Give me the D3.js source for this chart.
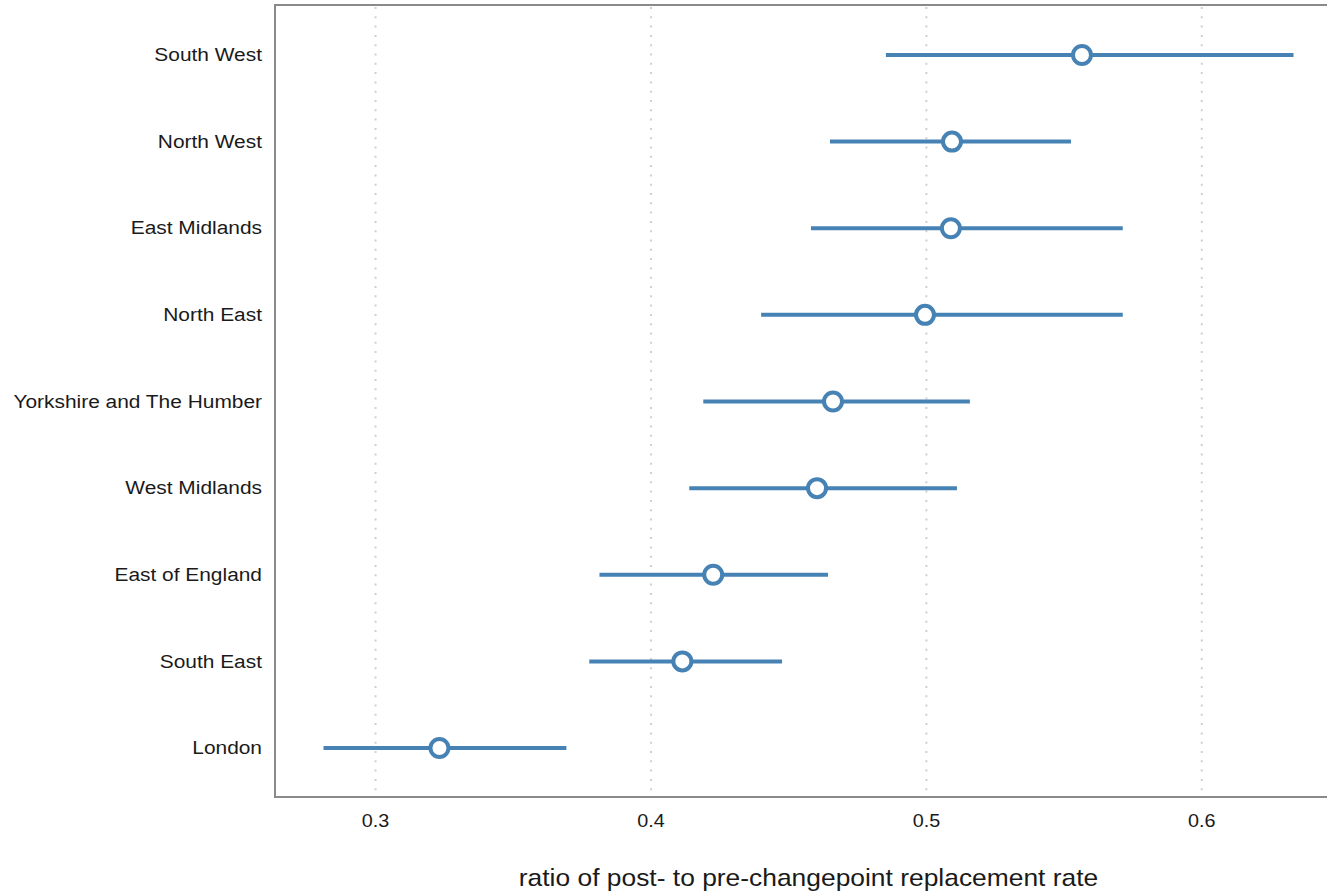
<!DOCTYPE html>
<html>
<head>
<meta charset="utf-8">
<script src="https://cdn.jsdelivr.net/npm/d3@7"></script>
<style>
  html, body { margin: 0; padding: 0; background: #fff; }
  svg { display: block; font-family: "Liberation Sans", Arial, Helvetica, sans-serif; }
</style>
</head>
<body>
<svg id="chart" width="1327" height="891"></svg>
<script>
// Data (top to bottom)
const regions = ["South West", "North West", "East Midlands", "North East",
  "Yorkshire and The Humber", "West Midlands", "East of England", "South East", "London"];
const estimate = [0.5565, 0.5093, 0.5089, 0.4995, 0.4661, 0.4603, 0.4226, 0.4114, 0.3232];
const lower    = [0.4853, 0.4650, 0.4581, 0.4400, 0.4190, 0.4139, 0.3813, 0.3776, 0.2811];
const upper    = [0.6333, 0.5525, 0.5713, 0.5713, 0.5158, 0.5111, 0.4643, 0.4476, 0.3693];
const xTicks = [0.3, 0.4, 0.5, 0.6];
const xTitle = "ratio of post- to pre-changepoint replacement rate";

(function () {
const svg = d3.select("#chart");
const pLeft = 275, pRight = 1342, pTop = 5, pBottom = 797;
const sx = 1.1;

const lo = d3.min(lower), hi = d3.max(upper), pad = (hi - lo) * 0.05;
const x = d3.scaleLinear().domain([lo - pad, hi + pad]).range([pLeft, pRight]);
const y = d3.scalePoint().domain(regions).range([pTop - 2, pBottom + 3]).padding(0.6);

// gridlines
svg.append("g").selectAll("line").data(xTicks).join("line")
  .attr("x1", d => x(d)).attr("x2", d => x(d))
  .attr("y1", pTop + 2).attr("y2", pBottom - 2)
  .attr("stroke", "#cfcfcf").attr("stroke-width", 2)
  .attr("stroke-dasharray", "2,7.3");

// border
svg.append("rect")
  .attr("x", pLeft).attr("y", pTop)
  .attr("width", pRight - pLeft).attr("height", pBottom - pTop)
  .attr("fill", "none").attr("stroke", "#8a8a8a").attr("stroke-width", 2);

const data = regions.map((r, i) => ({ r, est: estimate[i], lo: lower[i], hi: upper[i] }));

// interval lines
svg.append("g").selectAll("line").data(data).join("line")
  .attr("x1", d => x(d.lo)).attr("x2", d => x(d.hi))
  .attr("y1", d => y(d.r)).attr("y2", d => y(d.r))
  .attr("stroke", "#4682b4").attr("stroke-width", 4);

// points
svg.append("g").selectAll("circle").data(data).join("circle")
  .attr("cx", d => x(d.est)).attr("cy", d => y(d.r)).attr("r", 9)
  .attr("fill", "#fff").attr("stroke", "#4682b4").attr("stroke-width", 4);

// y labels
svg.append("g").selectAll("text").data(regions).join("text")
  .attr("transform", d => `translate(${pLeft - 13},${y(d) - 0.5}) scale(${sx},1)`)
  .attr("dy", "0.35em")
  .attr("text-anchor", "end").attr("font-size", 19).attr("fill", "#1a1a1a")
  .text(d => d);

// x tick labels
svg.append("g").selectAll("text").data(xTicks).join("text")
  .attr("transform", d => `translate(${x(d)},826.5) scale(${sx},1)`)
  .attr("text-anchor", "middle").attr("font-size", 18).attr("fill", "#1a1a1a")
  .text(d => d3.format(".1f")(d));

// x title
svg.append("text")
  .attr("transform", `translate(${(pLeft + pRight) / 2},886) scale(${sx},1)`)
  .attr("text-anchor", "middle").attr("font-size", 24).attr("fill", "#1a1a1a")
  .text(xTitle);
})();
</script>
</body>
</html>
